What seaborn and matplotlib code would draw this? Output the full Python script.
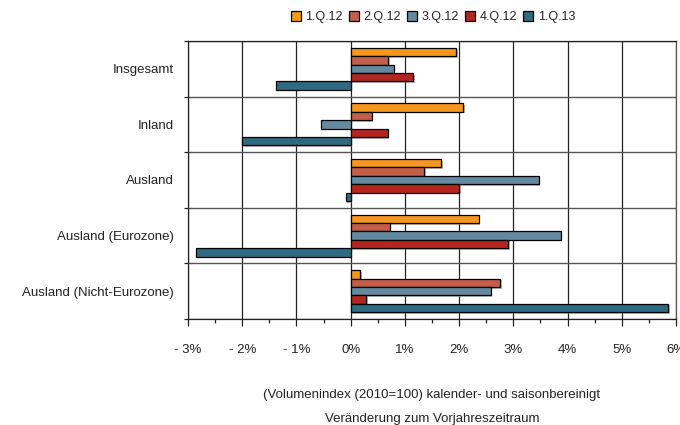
import pandas as pd
import numpy as np
import matplotlib.pyplot as plt
import matplotlib.patheffects as pe
from matplotlib.ticker import MultipleLocator, FuncFormatter
import seaborn as sns

categories = ['Insgesamt', 'Inland', 'Ausland', 'Ausland (Eurozone)',
              'Ausland (Nicht-Eurozone)']
quarters = ['1.Q.12', '2.Q.12', '3.Q.12', '4.Q.12', '1.Q.13']

q1_12 = [1.95, 2.08, 1.67, 2.36, 0.17]
q2_12 = [0.69, 0.39, 1.35, 0.72, 2.76]
q3_12 = [0.79, -0.55, 3.47, 3.87, 2.58]
q4_12 = [1.15, 0.68, 2.00, 2.91, 0.29]
q1_13 = [-1.37, -2.00, -0.09, -2.85, 5.85]

colors = ['#F5961F', '#C45E4A', '#648AA2', '#B2261F', '#2F6A82']

series = [q1_12, q2_12, q3_12, q4_12, q1_13]
rows = []
for q, vals in zip(quarters, series):
    for cat, v in zip(categories, vals):
        rows.append({'Kategorie': cat, 'Quartal': q, 'Wert': v})
df = pd.DataFrame(rows)

sns.set_theme(style='white')
plt.rcParams['font.family'] = ['Liberation Sans', 'DejaVu Sans']

fig, ax = plt.subplots(figsize=(6.8, 4.25), dpi=100)
fig.subplots_adjust(left=188 / 680, right=676 / 680, top=1 - 41 / 425,
                    bottom=1 - 319 / 425)

sns.barplot(data=df, y='Kategorie', x='Wert', hue='Quartal',
            order=categories, hue_order=quarters, palette=colors,
            saturation=1, orient='h', width=0.755, edgecolor='black',
            linewidth=0.9, legend=False, ax=ax, zorder=3)

shadow = [pe.SimplePatchShadow(offset=(1.2, -1.2), shadow_rgbFace='#888888',
                               alpha=0.6), pe.Normal()]
for p in ax.patches:
    p.set_path_effects(shadow)

ax.set_xlim(-3, 6)
ax.set_ylim(4.5, -0.5)
ax.xaxis.set_major_locator(MultipleLocator(1))
ax.xaxis.set_minor_locator(MultipleLocator(0.5))


def pct(v, pos):
    v = int(round(v))
    return f'- {abs(v)}%' if v < 0 else f'{v}%'


ax.xaxis.set_major_formatter(FuncFormatter(pct))
ax.set_yticks(np.arange(len(categories)))
ax.set_yticks(np.arange(-0.5, len(categories), 1), minor=True)

ax.grid(axis='x', which='major', color='#222222', linewidth=0.9, zorder=0)
ax.grid(axis='y', which='minor', color='#555555', linewidth=1.0, zorder=0)
ax.set_axisbelow(True)

fs = 9.5
ax.tick_params(axis='x', which='major', direction='out', length=5, width=0.9,
               color='#222222', bottom=True, labelsize=fs, pad=13,
               labelcolor='#222222')
ax.tick_params(axis='x', which='minor', direction='out', length=3, width=0.9,
               color='#222222', bottom=True)
ax.tick_params(axis='y', which='major', length=0, labelsize=fs, pad=10,
               labelcolor='#222222')
ax.tick_params(axis='y', which='minor', direction='out', length=3, width=0.9,
               color='#222222', left=True)

for s in ax.spines.values():
    s.set_color('#222222')
    s.set_linewidth(0.9)
ax.spines['right'].set_color('#555555')

ax.set_xlabel('')
ax.set_ylabel('')

ax.text(0.5, -0.275, '(Volumenindex (2010=100) kalender- und saisonbereinigt',
        transform=ax.transAxes, ha='center', va='center', fontsize=fs,
        color='#222222')
ax.text(0.5, -0.36, 'Veränderung zum Vorjahreszeitraum',
        transform=ax.transAxes, ha='center', va='center', fontsize=fs,
        color='#222222')

handles = [plt.Rectangle((0, 0), 1, 1, facecolor=c, edgecolor='black',
                         linewidth=0.9) for c in colors]
fig.legend(handles, quarters, loc='center', bbox_to_anchor=(433 / 680, 1 - 17 / 425),
           ncol=5, frameon=False, fontsize=9, handlelength=0.8, handleheight=0.9,
           handletextpad=0.35, columnspacing=0.5, labelcolor='#222222')

fig.savefig('out.png', dpi=100)
